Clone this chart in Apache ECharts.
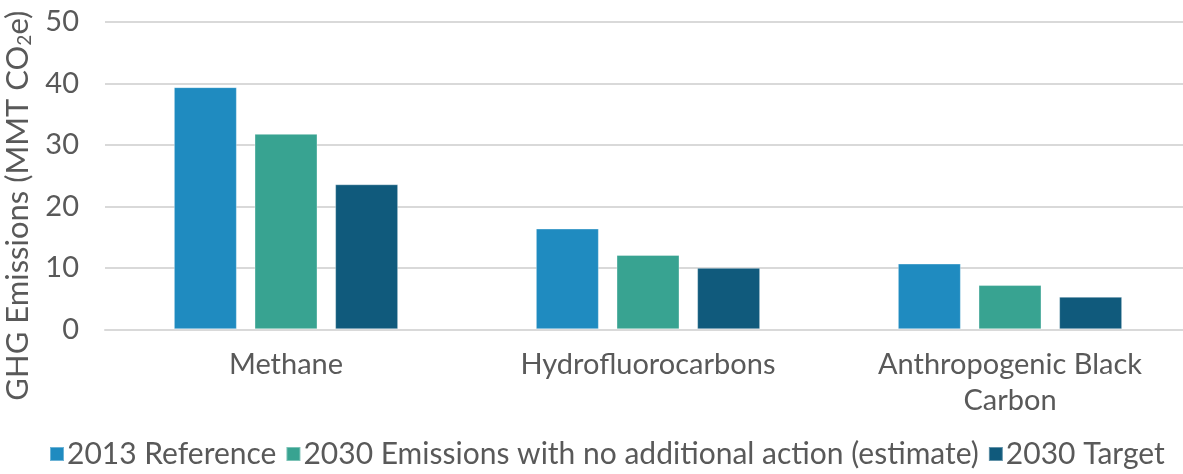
<!DOCTYPE html>
<html>
<head>
<meta charset="utf-8">
<script src="https://cdn.jsdelivr.net/npm/echarts@6/dist/echarts.min.js"></script>
<style>html,body{margin:0;padding:0;background:#fff}#c{width:1183px;height:474px}</style>
</head>
<body>
<div id="c"></div>
<script>
const categories = ['Methane', 'Hydrofluorocarbons', 'Anthropogenic Black\nCarbon'];
const seriesNames = ['2013 Reference', '2030 Emissions with no additional action (estimate)', '2030 Target'];
const ref2013 = [39.4, 16.4, 10.7];
const noAction2030 = [31.8, 12.1, 7.2];
const target2030 = [23.6, 10.0, 5.3];
const yTicks = [0, 10, 20, 30, 40, 50];

const colors = ['#1F8BC0', '#38A391', '#105A7C'];
const textColor = '#595959';
const font = 'Lato, "Noto Sans", sans-serif';

const chart = echarts.init(document.getElementById('c'), null, {renderer: 'canvas'});
const values = [ref2013, noAction2030, target2030];
chart.setOption({
  animation: false,
  color: colors,
  textStyle: {fontFamily: font},
  grid: {left: 105, top: 22, width: 1086, height: 307.3, containLabel: false, outerBoundsMode: 'none'},
  legend: {
    bottom: 0, left: 44,
    itemWidth: 14, itemHeight: 14, itemGap: 9,
    icon: 'rect',
    textStyle: {fontSize: 30, color: textColor, fontFamily: font, padding: [0, 0, 0, -2]},
    data: seriesNames
  },
  xAxis: {
    type: 'category',
    data: categories,
    axisLine: {show: true, lineStyle: {color: '#D9D9D9', width: 2}},
    axisTick: {show: false},
    axisLabel: {fontSize: 29, color: textColor, margin: 17, lineHeight: 36, fontFamily: font}
  },
  yAxis: {
    type: 'value',
    min: yTicks[0], max: yTicks[yTicks.length - 1], interval: 10,
    axisLine: {show: false},
    axisTick: {show: false},
    splitLine: {lineStyle: {color: '#D9D9D9', width: 2}},
    axisLabel: {fontSize: 29, color: textColor, margin: 26, fontFamily: font},
    name: 'GHG Emissions (MMT CO{sub|2}e)',
    nameLocation: 'middle',
    nameRotate: 90,
    nameGap: 69,
    nameTextStyle: {
      fontSize: 31, color: textColor, fontFamily: font, padding: [0, 60, 0, 0],
      rich: {sub: {fontSize: 19, color: textColor, fontFamily: font, verticalAlign: 'bottom', padding: [13, 0, 0, 0]}}
    }
  },
  series: values.map((v, i) => ({
    name: seriesNames[i],
    type: 'bar',
    data: v,
    barWidth: 63,
    barGap: '28%',
    itemStyle: {color: colors[i], borderColor: 'rgba(255,255,255,0.35)', borderWidth: 1}
  }))
});
</script>
</body>
</html>
